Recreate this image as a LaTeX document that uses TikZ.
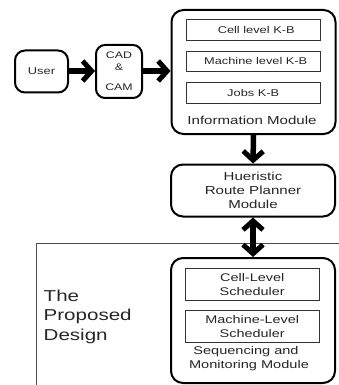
\documentclass[tikz,border=0pt]{standalone}
\usepackage{fontspec}
\setmainfont{Liberation Sans}[FakeStretch=1.3]
\usetikzlibrary{arrows.meta}
\tikzset{
  x=1pt,y=-1pt,
  modbox/.style={draw=black,line width=2pt,rounded corners=10pt,fill=white,inner sep=0pt,align=center,text=black!85},
  kbbox/.style={draw=black!80,line width=0.7pt,fill=white,inner sep=0pt,align=center,minimum width=133.5pt,text=black!85,font=\fontsize{9.85}{13.5}\selectfont},
  lab/.style={inner sep=0pt,align=center,text=black!85},
  flow/.style={line width=5.5pt,-{Straight Barb[length=9pt,width=20pt,line width=5pt]}},
  biflow/.style={line width=5.5pt,{Straight Barb[length=9pt,width=20pt,line width=5pt]}-{Straight Barb[length=9pt,width=20pt,line width=5pt]}}
}
\begin{document}
\begin{tikzpicture}
\useasboundingbox (0,0) rectangle (339,385);
\draw[black!70,line width=0.7pt] (339,243) -- (36.5,243) -- (36.5,385);
\node[modbox,minimum width=53pt,minimum height=42pt,font=\fontsize{9.85}{12}\selectfont] (user) at (41.5,71.5) {User};
\node[modbox,minimum width=46pt,minimum height=53pt,rounded corners=9pt] (cad) at (119,71.5) {};
\node[lab,font=\fontsize{9.5}{11.5}\selectfont] (cadt) at (119,61) {CAD\\\&};
\node[lab,font=\fontsize{9.5}{12}\selectfont] (camt) at (119,87.5) {CAM};
\node[modbox,minimum width=164pt,minimum height=124pt,rounded corners=12pt] (info) at (253.5,72) {};
\node[kbbox,minimum height=20.5pt] (k1) at (253.2,29.7) {\hspace{6pt}Cell level K-B};
\node[kbbox,minimum height=20.5pt] (k2) at (253.2,61.2) {\hspace{5pt}Machine level K-B};
\node[kbbox,minimum height=20.5pt] (k3) at (253.2,92.7) {Jobs K-B};
\node[lab,font=\fontsize{11.6}{14}\selectfont] (infot) at (252,120.5) {Information Module};
\node[modbox,minimum width=164pt,minimum height=52pt,rounded corners=12pt,font=\fontsize{11.6}{14.2}\selectfont] (route) at (253,190.5) {Hueristic\\Route Planner\\Module};
\node[modbox,minimum width=164pt,minimum height=125pt,rounded corners=12pt] (seq) at (253,320.5) {};
\node[kbbox,minimum height=31.5pt,font=\fontsize{11.1}{14}\selectfont] (s1) at (252.2,284.5) {Cell-Level\\Scheduler};
\node[kbbox,minimum height=31.5pt,font=\fontsize{11.1}{14}\selectfont] (s2) at (252.2,326.2) {Machine-Level\\Scheduler};
\node[lab,font=\fontsize{11.2}{14}\selectfont] (seqt) at (249,358.5) {\hspace{-6pt}Sequencing and\\Monitoring Module};
\node[lab,align=left,anchor=north west,font=\fontsize{15.8}{19.7}\selectfont] (des) at (43.5,289.5) {The\\Proposed\\Design};
\draw[flow] (user.east |- 0,71) -- (cad.west |- 0,71);
\draw[flow] (cad.east |- 0,71) -- (info.west |- 0,71);
\draw[flow] (info.south) -- (route.north);
\draw[biflow] (route.south) -- (seq.north);
\end{tikzpicture}
\end{document}
